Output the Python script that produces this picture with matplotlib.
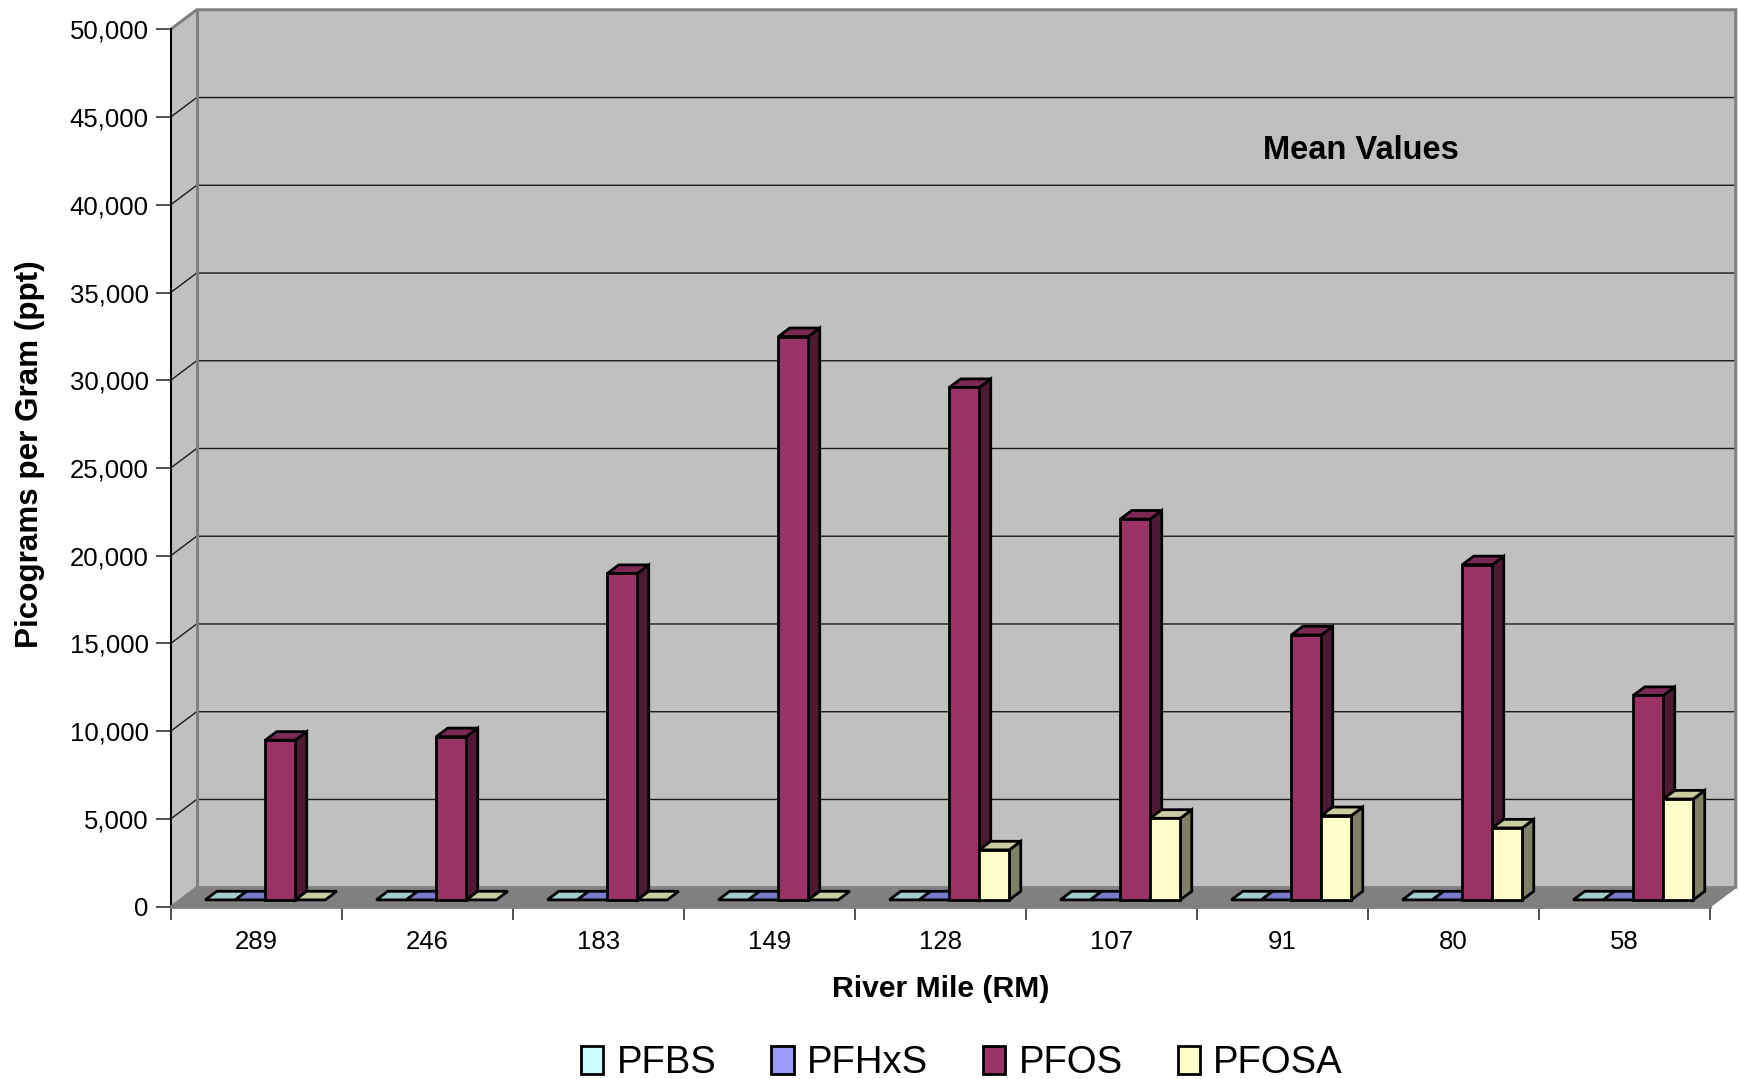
import matplotlib
matplotlib.use("Agg")
import matplotlib.pyplot as plt
from matplotlib.patches import Polygon, Patch
import numpy as np

plt.rcParams['font.family'] = ['Liberation Sans', 'DejaVu Sans']

# ---------------- data ----------------
river_miles = ["289", "246", "183", "149", "128", "107", "91", "80", "58"]
series_names = ["PFBS", "PFHxS", "PFOS", "PFOSA"]
pfbs = [0, 0, 0, 0, 0, 0, 0, 0, 0]
pfhxs = [0, 0, 0, 0, 0, 0, 0, 0, 0]
pfos = [9100, 9300, 18600, 32100, 29200, 21700, 15100, 19100, 11650]
pfosa = [0, 0, 0, 0, 2850, 4650, 4800, 4100, 5750]
y_ticks = list(range(0, 50001, 5000))
title_text = "Mean Values"
x_label = "River Mile (RM)"
y_label = "Picograms per Gram (ppt)"

series_values = [pfbs, pfhxs, pfos, pfosa]
front_colors = ["#CCFFFF", "#9999FF", "#993366", "#FFFFCC"]

# ---------------- layout ----------------
W, H = 1739, 1079
fig = plt.figure(figsize=(W / 100, H / 100), dpi=100)
X0, X1, Y0, YT = 170.7, 1709.7, 906.7, 29.3
ax = fig.add_axes([X0 / W, (H - Y0) / H, (X1 - X0) / W, (Y0 - YT) / H])
ncat = len(river_miles)
YMAX = 50000
ax.set_xlim(-0.5, ncat - 0.5)
ax.set_ylim(0, YMAX)
ax.patch.set_visible(False)

cat_px = (X1 - X0) / ncat
val_px = (Y0 - YT) / YMAX
DX = 26 / cat_px          # depth shift in category units
DY = 19.5 / val_px        # depth shift in value units


def proj(x, y, d):
    return (x + d * DX, y + d * DY)


def poly(pts, **kw):
    p = Polygon([proj(*q) for q in pts], closed=True, clip_on=False, **kw)
    ax.add_patch(p)
    return p


xl, xr = -0.5, ncat - 0.5
wall = "#C0C0C0"
edge = "#808080"
# back wall
poly([(xl, 0, 1), (xr, 0, 1), (xr, YMAX, 1), (xl, YMAX, 1)], facecolor=wall, edgecolor='none', zorder=1)
# left wall
poly([(xl, 0, 0), (xl, 0, 1), (xl, YMAX, 1), (xl, YMAX, 0)], facecolor=wall, edgecolor='none', zorder=1)

# gridlines
for v in y_ticks[1:-1]:
    pts = [proj(xl, v, 0), proj(xl, v, 1), proj(xr, v, 1)]
    ax.plot([p[0] for p in pts], [p[1] for p in pts], color='#1a1a1a', lw=1.0, clip_on=False, zorder=2)

# wall edges
for seg in [[(xl, 0, 1), (xl, YMAX, 1)], [(xl, YMAX, 0), (xl, YMAX, 1), (xr, YMAX, 1), (xr, 0, 1)]]:
    pts = [proj(*q) for q in seg]
    ax.plot([p[0] for p in pts], [p[1] for p in pts], color=edge, lw=2.2, clip_on=False, zorder=2.5,
            solid_joinstyle='miter')

# floor
poly([(xl, 0, 0), (xr, 0, 0), (xr, 0, 1), (xl, 0, 1)], facecolor=edge, edgecolor=edge, lw=1.5, zorder=3)

# ---------------- bars ----------------
BW = 30 / cat_px
d0, d1 = 0.35, 0.79


def shade(c, f):
    c = np.array(matplotlib.colors.to_rgb(c)) * f
    return tuple(c)


z = 4
for ci in range(ncat):
    for si, vals in enumerate(series_values):
        v = vals[ci]
        L = ci + (si - 2) * BW
        R = L + BW
        fc = front_colors[si]
        kw = dict(edgecolor='black', lw=2.0, joinstyle='miter')
        if v > 0:
            poly([(R, 0, d0), (R, 0, d1), (R, v, d1), (R, v, d0)], facecolor=shade(fc, 0.5), zorder=z, **kw)
            poly([(L, v, d0), (R, v, d0), (R, v, d1), (L, v, d1)], facecolor=shade(fc, 0.8), zorder=z, **kw)
            poly([(L, 0, d0), (R, 0, d0), (R, v, d0), (L, v, d0)], facecolor=fc, zorder=z, **kw)
        else:
            poly([(L, 0, d0), (R, 0, d0), (R, 0, d1), (L, 0, d1)], facecolor=shade(fc, 0.8), zorder=z, **kw)
        z += 0.01

# ---------------- axes styling ----------------
for s in ['top', 'right']:
    ax.spines[s].set_visible(False)
ax.spines['left'].set_color('black')
ax.spines['left'].set_linewidth(1.5)
ax.spines['left'].set_zorder(2.6)
ax.spines['bottom'].set_color(edge)
ax.spines['bottom'].set_linewidth(2.0)
ax.spines['bottom'].set_zorder(3.5)

ax.set_yticks(y_ticks)
ax.set_yticklabels([f"{v:,}" for v in y_ticks], fontsize=18.5)
ax.tick_params(axis='y', direction='out', length=10.8, width=1.2, color='#333333', pad=5)

ax.set_xticks(np.arange(-0.5, ncat, 1.0))
ax.set_xticklabels([])
ax.tick_params(axis='x', which='major', direction='out', length=9.4, width=1.2, color='#333333')
ax.set_xticks(np.arange(ncat), minor=True)
ax.set_xticklabels(river_miles, minor=True, fontsize=18.5)
ax.tick_params(axis='x', which='minor', length=0, pad=16.5)

# ---------------- texts ----------------
fig.text(1361 / W, 1 - 159.3 / H, title_text, ha='center', va='baseline', fontsize=23.5, fontweight='bold')
fig.text(941 / W, 1 - 996.7 / H, x_label, ha='center', va='baseline', fontsize=21.7, fontweight='bold')
fig.text(30 / W, 1 - 454 / H, y_label, ha='center', va='center', rotation=90, fontsize=22.6, fontweight='bold')

handles = [Patch(facecolor=c, edgecolor='black', lw=2.0) for c in front_colors]
fig.legend(handles, series_names, loc='center', bbox_to_anchor=(962 / W, 1 - 1063 / H), ncol=4,
           frameon=False, fontsize=27.5, handlelength=0.58, handleheight=0.75, handletextpad=0.35,
           columnspacing=1.44, borderaxespad=0, borderpad=0)

fig.savefig("out.png", dpi=100)
